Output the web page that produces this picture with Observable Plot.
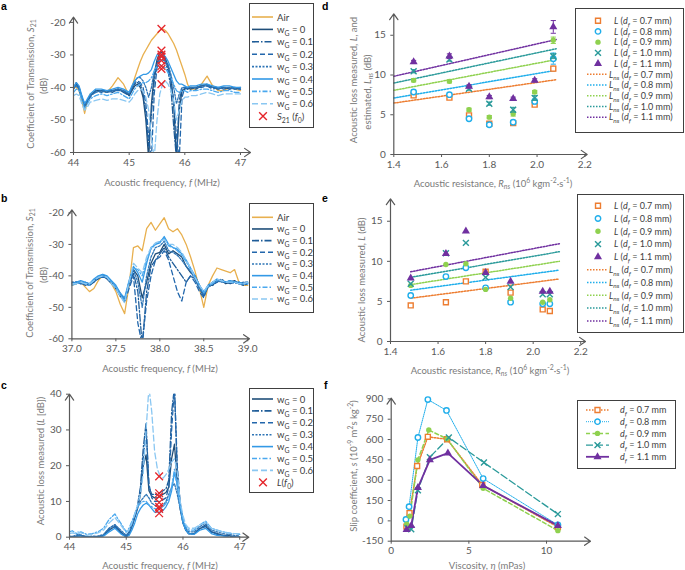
<!DOCTYPE html>
<html><head><meta charset="utf-8">
<script src="https://cdn.jsdelivr.net/npm/d3@7"></script>
<script src="https://cdn.jsdelivr.net/npm/@observablehq/plot@0.6"></script>
<style>
html,body{margin:0;padding:0;background:#fff;}
#root{position:relative;width:685px;height:570px;overflow:hidden;background:#fff;}
.panel{position:absolute;}
#ov{position:absolute;left:0;top:0;}
text{white-space:pre;}
</style></head>
<body><div id="root"></div>
<script>
// ================= DATA =================
// Panel a: S21 spectra around 45.6 MHz
const freqA = [44.0,44.05,44.1,44.15,44.2,44.25,44.3,44.4,44.5,44.6,44.7,44.8,44.9,45.0,45.05,45.1,45.15,45.2,45.25,45.3,45.35,45.4,45.45,45.5,45.55,45.6,45.65,45.7,45.75,45.8,45.85,45.9,45.95,46.0,46.05,46.1,46.2,46.3,46.4,46.5,46.6,46.7,46.8,46.9,47.0];
const airA = [-40,-40,-41,-44,-48,-44,-42, -41,-41,-41.5,-39.5,-37,-39,-42.5, -40,-37,-34.5,-32,-30,-28.5,-27,-25.5,-24.5,-23.5,-22.5,-22,-22.5,-23.5,-25,-26.5,-28.5,-31,-33.5,-36,-39,-40.5, -40.5,-39,-36.5,-39.5,-41,-41,-40,-40.5,-41];
const wg0A = [-40.5,-38.5,-40,-43,-45.5,-44,-42.5, -41,-41,-41.5,-41,-40.5,-41,-42.5, -41,-39.5,-39,-40,-43,-50,-62,-45,-36,-31.5,-29.5,-29,-31,-33.5,-37,-45,-62,-47,-41,-40.5,-40,-40.5, -40,-39.5,-39,-40,-40.5,-40,-40.5,-40,-40.5];
const wg1A = [-40,-39,-40.5,-43.5,-46,-44.5,-42.5, -41.5,-41,-41,-41.5,-40.5,-41.5,-42.5, -40.5,-39,-38.5,-39,-42,-48,-58,-48,-38,-32.5,-30.5,-30,-32,-35,-40,-52,-62,-44,-40.5,-40,-40.5,-40, -40.5,-39.5,-39.5,-40,-40,-40.5,-40,-40.5,-40];
const wg2A = [-40.5,-39,-40,-43,-45,-44,-43, -41,-41.5,-41,-41,-41,-41,-42, -40,-38.5,-38,-38.5,-40,-45,-55,-62,-42,-34,-31,-30.5,-31.5,-34,-38,-44,-55,-62,-43,-40,-40.5,-40, -40,-40,-39.5,-40.5,-40,-40,-40.5,-40,-40.5];
const wg3A = [-40,-39.5,-40.5,-43,-45.5,-44,-42.5, -41.5,-41,-41.5,-41,-40.5,-41,-42, -40,-38,-37,-37,-38,-40,-43,-40,-35,-33,-32,-31.5,-32,-33,-36,-40,-45,-42,-40,-40,-40,-40, -40,-39.5,-39.5,-40,-40.5,-40,-40,-40.5,-40.5];
const wg4A = [-40,-38.5,-39.5,-42.5,-45,-43.5,-42, -40.5,-40.5,-41,-40.5,-40,-40.5,-41.5, -39.5,-38,-37,-36.5,-36,-36,-35.5,-34.5,-32,-30,-29.5,-30,-30.5,-32,-34,-36,-38,-39,-39,-39.5,-40,-39.5, -39.5,-39,-39,-39.5,-40,-39.5,-39.5,-40,-40];
const wg5A = [-41.5,-40.5,-41,-44,-46.5,-45,-43.5, -42.5,-42,-42.5,-42,-41.5,-42.5,-43.5, -42,-40.5,-39.5,-39,-38.5,-38.5,-38,-37,-35,-33.5,-33,-33.5,-34,-35.5,-37,-39,-41,-41.5,-41,-41,-41.5,-41, -41,-40.5,-40.5,-41,-41.5,-41,-41,-41.5,-41.5];
const wg6A = [-42.5,-42,-42.5,-45,-47,-46,-44.5, -44,-43.5,-44,-43.5,-43.5,-44,-44.5, -43.5,-42,-41,-40.5,-41,-43,-47,-55,-62,-50,-42,-39,-38,-39,-41,-44,-50,-47,-44,-43,-43,-42.5, -42.5,-42,-41.5,-42,-42.5,-42,-42,-42,-42];
const f0A = 45.58;
const s21AtF0 = [-22,-28.7,-29.9,-30.5,-31.7,-33.4,-34.3,-39];

// Panel b: S21 spectra around 38 MHz
const freqB = [37.0,37.05,37.1,37.15,37.2,37.25,37.3,37.35,37.4,37.45,37.5,37.55,37.6,37.65,37.7,37.75,37.8,37.85,37.9,37.95,38.0,38.05,38.1,38.15,38.2,38.25,38.3,38.35,38.4,38.45,38.5,38.55,38.6,38.65,38.7,38.75,38.8,38.85,38.9,38.95,39.0];
const airB = [-43,-42.5,-42,-43.5,-45,-44,-41.5,-40,-40.5,-42.5,-45,-49,-52,-43,-31, -30.5,-32,-25,-23,-25.5,-23.5,-21.5,-25,-26,-25,-27,-30,-34,-38.5,-44,-50,-43,-40,-37.5,-38,-38.5,-39,-38,-42,-43,-43];
const wg0B = [-42.5,-42,-42,-42.5,-43,-42,-40.5,-40,-40.5,-42,-44,-46.5,-48,-42,-38, -40,-47,-42,-36,-33,-32.5,-30,-33,-32,-33,-34,-37,-39,-40,-43,-46,-43,-43,-41.5,-41.5,-42.5,-42,-41.5,-42.5,-42.5,-42];
const wg1B = [-42,-42.5,-42,-43,-42.5,-41.5,-41,-40,-41,-42.5,-44,-46,-47.5,-43,-39, -45,-62,-45,-37,-35,-33,-31,-34,-36,-38,-40,-42,-40,-41,-44,-46.5,-43.5,-43,-42,-41,-42,-42.5,-42,-42.5,-43,-42.5];
const wg2B = [-42.5,-42,-42.5,-42.5,-43,-42,-40.5,-40.5,-40.5,-42,-43.5,-46,-48.5,-44,-40, -55,-62,-48,-40,-35,-34,-32,-35,-40,-45,-48,-42,-40,-42,-45,-47,-43,-42.5,-42,-41.5,-42,-42,-42.5,-42,-42.5,-42.5];
const wg3B = [-42,-42,-42.5,-42,-42.5,-41.5,-40.5,-39.5,-40.5,-42,-43.5,-45.5,-47.5,-42.5,-38, -42,-50,-40,-34,-31,-30.5,-29,-32,-32.5,-33.5,-35,-37,-38.5,-41,-44,-46,-43,-42,-41.5,-42,-42,-41.5,-42,-42.5,-42,-42];
const wg4B = [-42.5,-42,-41.5,-42,-42.5,-41,-40,-39.5,-40,-41.5,-43,-45.5,-47,-41.5,-37, -39,-42,-36,-31,-30,-29.5,-27.5,-30,-31,-31.5,-33,-35,-37.5,-40,-43,-45,-43,-42,-41,-41.5,-42,-41.5,-42,-42,-42.5,-42];
const wg5B = [-43,-42.5,-42,-42.5,-43,-41.5,-40.5,-40,-40.5,-42,-43.5,-46,-48,-42,-37.5, -38,-40,-35,-31.5,-30,-29,-28,-30.5,-31,-32,-33.5,-35.5,-38,-40.5,-43,-45.5,-43.5,-42.5,-41.5,-41.5,-42,-42,-42,-42.5,-42.5,-42.5];
const wg6B = [-42.5,-42.5,-42,-42.5,-42.5,-41.5,-40.5,-40,-40.5,-42.5,-44,-46.5,-48.5,-42,-36, -37.5,-39,-34,-31,-29.5,-29,-28.5,-30,-30,-31,-32.5,-35,-37.5,-40.5,-43,-45,-43,-42,-41,-41.5,-42,-42,-42,-42.5,-42.5,-42];

// Panel c: acoustic loss spectra (same frequency grid as a)
const freqC = freqA;
const wg0C = [0,0,0,0.5,0.5,0.3,0.2, 0,0,0.5,2,3,1.5,0, 1,3,5.5,8,12,20,23,13,11.5,11,11,11.5,12,12.5,14,22,26,15,8,4,2,1, 1,2.5,3,1.5,1,0.5,0.5,0,0];
const wg1C = [0,0,0.2,0.5,0.3,0.2,0, 0,0.2,0.5,2.5,3.5,1.5,0.2, 1.5,3.5,6,9,14,25,32,14,12,12,12,12.5,13,13.5,16,35,42,18,9,4.5,2,1, 1,2.5,3.5,1.5,1,0.5,0.3,0,0];
const wg2C = [0,0.2,0,0.3,0.5,0.3,0, 0.2,0,0.5,2,3,1.2,0, 1,3,5.5,8.5,13,22,30,15,11,10,10,10,10.5,11,14,30,42,20,10,4.5,2,1, 0.8,2.5,3,1.5,0.8,0.5,0.3,0.2,0];
const wg3C = [0.3,0.2,0.5,0.8,0.6,0.4,0.2, 0.3,0.3,0.8,2.5,3.5,2,0.5, 1.5,3.5,6,8.5,10,11,12,11,9.5,9,8.5,8.5,9,10,12,14,15,12,8,4,2.5,1.5, 1.5,3,4,2,1.5,1,0.8,0.5,0.3];
const wg4C = [0,0,0,0.3,0.2,0,0, 0,0,0.3,1.5,2.5,1,0, 0.5,2,4,6.5,8,9,9.5,9,8,7,7,7,7.5,8.5,10,13,18,15,9,4,2,1, 0.8,2,2.5,1,0.5,0.3,0,0,0];
const wg5C = [1.5,1.8,1.2,1,1.5,1.2,0.8, 1,1.5,2.5,5,6.5,4,1.5, 2.5,4.5,6.5,8.5,9.5,10,10,9,8.5,8,8,8,8.5,9.5,11,14,19,14,9,5,3,2, 2,3.5,4.5,2.5,2,1.5,1.2,1,0.8];
const wg6C = [1,1.2,1,1.5,1.2,1,0.5, 0.8,1.2,2,4,5.5,3.5,1.2, 2,4,6.5,9,12,18,30,42,35,24,19,17,16.5,17.5,19,21,22,18,10,6,3.5,2.5, 2.5,3.5,4,2.5,2,1.5,1.2,1,1];
const lossAtF0 = [17,12.3,11.4,9.7,8.5,7.9,6.7];

// Panel d: measured L vs R_ns, plus estimated L_ns lines
const rnsD = [1.483,1.633,1.715,1.80,1.90,1.99,2.068];
const dL07 = [7.44,7.15,4.92,3.87,3.95,6.27,10.8];
const dL08 = [7.86,7.53,4.5,3.74,4.07,6.68,12.06];
const dL09 = [9.33,9.2,5.63,4.7,5.13,7.86,14.37];
const dL10 = [10.47,11.94,8.28,6.39,5.63,7.1,12.36];
const dL11 = [11.64,12.36,8.57,7.23,7.02,9.33,16.05];
const dErr07 = [0.2,0.2,0.2,0.2,0.2,0.2,0.3];
const dErr08 = [0.2,0.2,0.2,0.2,0.2,0.3,0.7];
const dErr09 = [0.2,0.2,0.2,0.2,0.3,0.2,0.4];
const dErr10 = [0.2,0.2,0.2,0.2,0.3,0.3,0.3];
const dErr11 = [0.2,0.3,0.2,0.2,0.2,0.2,0.8];
const lnsXD = [1.4,2.08];
const dLns07 = [6.47,9.41];
const dLns08 = [7.1,10.6];
const dLns09 = [8.07,11.94];
const dLns10 = [8.99,13.3];
const dLns11 = [9.84,14.46];

// Panel e
const rnsE = [1.485,1.633,1.717,1.80,1.905,2.04,2.07];
const eL07 = [4.5,4.9,7.5,8.7,6.1,4.0,3.8];
const eL08 = [5.75,8.1,9.2,6.7,4.9,4.7,4.7];
const eL09 = [7.0,9.6,9.7,6.5,5.4,4.9,5.2];
const eL10 = [7.2,11.0,12.3,8.0,6.8,5.9,5.9];
const eL11 = [7.9,10.96,13.75,8.6,7.5,6.25,6.25];
const lnsXE = [1.485,2.11];
const eLns07 = [5.4,7.8];
const eLns08 = [6.4,8.9];
const eLns09 = [7.1,10.0];
const eLns10 = [8.0,11.2];
const eLns11 = [8.7,12.2];

// Panel f: slip coefficient vs viscosity
const etaF07 = [0.98,1.18,1.67,2.36,3.6,5.86,10.73];
const sF07 = [-42,57,405,620,602,265,-45];
const etaF08 = [0.95,1.15,1.72,2.36,3.56,5.92,10.73];
const sF08 = [10,105,615,895,815,312,-30];
const etaF09 = [1.0,1.2,1.72,2.42,3.6,5.92,10.73];
const sF09 = [-25,35,450,670,605,240,-72];
const etaF10 = [1.05,1.29,1.72,2.49,3.71,5.97,10.73];
const sF10 = [-55,-62,225,470,615,430,50];
const etaF11 = [0.99,1.29,1.72,2.49,3.65,5.92,10.73];
const sF11 = [-65,-35,245,450,500,260,-35];

// Labels
const wgNames = ["0","0.1","0.2","0.3","0.4","0.5","0.6"];
const dfNames = ["0.7","0.8","0.9","1.0","1.1"];

// ================= STYLES =================
const FONT = "Lato, 'Open Sans', sans-serif";
const AX = "#595959";
const TITLE = "#7a7a7a";
const LEGTXT = "#404040";
const airColor = "#E8B04F";
const redX = "#E5262B";
const wgColors = ["#1F4E79","#1E5C98","#2267AC","#2E75B6","#3399E6","#4AA8EE","#8AC7F2"];
const wgDash = [undefined,"7,2,1.5,2","5,3","2,1.5",undefined,"5,2,1.5,2","6,3"];
const dfColors = ["#ED7D31","#1FAEEB","#8FD14F","#2A9A9A","#7030A0"];
const fDash = ["1.5,1.5","1,1","4,2.5","7,3",undefined];
const fWidth = [1.5,1,1.5,1.3,1.8];

// ================= HELPERS =================
const root = d3.select("#root");
const rows = (xs, ys) => xs.map((x, i) => ({x, y: ys[i]}));
const capSymbol = {draw(ctx, size) { const r = Math.sqrt(size / Math.PI); ctx.moveTo(-r, 0); ctx.lineTo(r, 0); }};

function axisArrows(xd, yd) {
  return [
    Plot.arrow([{x1: xd[0], y1: yd[0], x2: xd[1], y2: yd[0]}], {x1: "x1", y1: "y1", x2: "x2", y2: "y2", stroke: AX, strokeWidth: 1.2, headLength: 9, headAngle: 70}),
    Plot.arrow([{x1: xd[0], y1: yd[0], x2: xd[0], y2: yd[1]}], {x1: "x1", y1: "y1", x2: "x2", y2: "y2", stroke: AX, strokeWidth: 1.2, headLength: 9, headAngle: 70})
  ];
}

function panel(o) {
  const svg = Plot.plot({
    width: o.width, height: o.height,
    marginTop: o.mt, marginRight: o.mr, marginBottom: o.mb, marginLeft: o.ml,
    x: {domain: o.xd, ticks: o.xt, tickFormat: o.xf || (d => `${d}`), tickSize: 3, tickPadding: 3, label: null},
    y: {domain: o.yd, ticks: o.yt, tickFormat: o.yf || (d => `${d}`), tickSize: 3, tickPadding: 5, label: null},
    style: {fontFamily: FONT, fontSize: "10px", color: AX, background: "transparent", overflow: "visible"},
    marks: [...o.marks, axisArrows(o.xd, o.yd)]
  });
  root.append("div").attr("class", "panel").style("left", o.left + "px").style("top", o.top + "px").node().appendChild(svg);
}

// ================= PANEL a =================
const seriesA = [wg0A, wg1A, wg2A, wg3A, wg4A, wg5A, wg6A];
panel({
  left: 0, top: 0, width: 258, height: 190, mt: 16.7, mr: 8, mb: 38, ml: 73,
  xd: [44, 47.18], xt: [44, 45, 46, 47], yd: [-60, -18.4], yt: [-60, -50, -40, -30, -20],
  marks: [
    Plot.line(rows(freqA, airA), {x: "x", y: "y", stroke: airColor, strokeWidth: 1.3, clip: true}),
    ...seriesA.map((s, i) => Plot.line(rows(freqA, s), {x: "x", y: "y", stroke: wgColors[i], strokeWidth: 1.3, strokeDasharray: wgDash[i], clip: true})),
    Plot.dot(s21AtF0, {x: () => f0A, y: d => d, symbol: "times", stroke: redX, r: 3.6, strokeWidth: 1.3})
  ]
});

// ================= PANEL b =================
const seriesB = [wg0B, wg1B, wg2B, wg3B, wg4B, wg5B, wg6B];
panel({
  left: 0, top: 190, width: 258, height: 190, mt: 19.3, mr: 9, mb: 41.7, ml: 71.4,
  xd: [37, 39.02], xt: [37, 37.5, 38, 38.5, 39], xf: d3.format(".1f"), yd: [-60, -19], yt: [-60, -50, -40, -30, -20],
  marks: [
    Plot.line(rows(freqB, airB), {x: "x", y: "y", stroke: airColor, strokeWidth: 1.3, clip: true}),
    ...seriesB.map((s, i) => Plot.line(rows(freqB, s), {x: "x", y: "y", stroke: wgColors[i], strokeWidth: 1.3, strokeDasharray: wgDash[i], clip: true}))
  ]
});

// ================= PANEL c =================
const seriesC = [wg0C, wg1C, wg2C, wg3C, wg4C, wg5C, wg6C];
panel({
  left: 0, top: 380, width: 258, height: 190, mt: 13.7, mr: 9.7, mb: 33.3, ml: 69,
  xd: [44, 47.16], xt: [44, 45, 46, 47], yd: [0, 40], yt: [0, 10, 20, 30, 40],
  marks: [
    ...seriesC.map((s, i) => Plot.line(rows(freqC, s), {x: "x", y: "y", stroke: wgColors[i], strokeWidth: 1.3, strokeDasharray: wgDash[i], clip: true})),
    Plot.dot(lossAtF0, {x: () => f0A, y: d => d, symbol: "times", stroke: redX, r: 3.6, strokeWidth: 1.3})
  ]
});

// ================= PANEL d / e helpers =================
const symDefs = [
  {symbol: "square", fill: "white", stroke: true, r: 2.8},
  {symbol: "circle", fill: "white", stroke: true, r: 2.7},
  {symbol: "circle", fill: true, stroke: false, r: 2.7},
  {symbol: "times", fill: false, stroke: true, r: 2.8},
  {symbol: "triangle", fill: true, stroke: false, r: 3}
];
function pointMarks(xs, series, errs) {
  const out = [];
  series.forEach((s, i) => {
    const c = dfColors[i], sd = symDefs[i];
    if (errs) {
      const er = xs.map((x, k) => ({x, lo: s[k] - errs[i][k], hi: s[k] + errs[i][k]}));
      out.push(Plot.ruleX(er, {x: "x", y1: "lo", y2: "hi", stroke: c, strokeWidth: 1}));
      out.push(Plot.dot(er, {x: "x", y: "lo", symbol: capSymbol, r: 2.6, stroke: c, strokeWidth: 1}));
      out.push(Plot.dot(er, {x: "x", y: "hi", symbol: capSymbol, r: 2.6, stroke: c, strokeWidth: 1}));
    }
    out.push(Plot.dot(rows(xs, s), {x: "x", y: "y", symbol: sd.symbol, r: sd.r,
      fill: sd.fill === true ? c : (sd.fill || "none"), stroke: sd.stroke ? c : "none", strokeWidth: 1.4}));
  });
  return out;
}
function lnsMarks(xs, series) {
  return series.map((s, i) => Plot.line(rows(xs, s), {x: "x", y: "y", stroke: dfColors[i], strokeWidth: 1.5, strokeDasharray: "1.5,1.5"}));
}

// ================= PANEL d =================
panel({
  left: 330, top: 0, width: 260, height: 190, mt: 13.3, mr: 3.3, mb: 36, ml: 63.3,
  xd: [1.4, 2.21], xt: [1.4, 1.6, 1.8, 2.0, 2.2], xf: d3.format(".1f"), yd: [0, 17.7], yt: [0, 5, 10, 15],
  marks: [
    ...lnsMarks(lnsXD, [dLns07, dLns08, dLns09, dLns10, dLns11]),
    ...pointMarks(rnsD, [dL07, dL08, dL09, dL10, dL11], [dErr07, dErr08, dErr09, dErr10, dErr11])
  ]
});

// ================= PANEL e =================
panel({
  left: 330, top: 185, width: 260, height: 190, mt: 13.3, mr: 5, mb: 34, ml: 60,
  xd: [1.4, 2.22], xt: [1.4, 1.6, 1.8, 2.0, 2.2], xf: d3.format(".1f"), yd: [0, 17.8], yt: [0, 5, 10, 15],
  marks: [
    ...lnsMarks(lnsXE, [eLns07, eLns08, eLns09, eLns10, eLns11]),
    ...pointMarks(rnsE, [eL07, eL08, eL09, eL10, eL11], null)
  ]
});

// ================= PANEL f =================
const etaF = [etaF07, etaF08, etaF09, etaF10, etaF11];
const sF = [sF07, sF08, sF09, sF10, sF11];
panel({
  left: 330, top: 375, width: 265, height: 195, mt: 22.7, mr: 5, mb: 29.3, ml: 60.7,
  xd: [0, 12.83], xt: [0, 5, 10], yd: [-150, 905], yt: [-150, 0, 150, 300, 450, 600, 750, 900],
  marks: [
    ...sF.map((s, i) => Plot.line(rows(etaF[i], s), {x: "x", y: "y", stroke: dfColors[i], strokeWidth: fWidth[i], strokeDasharray: fDash[i]})),
    ...sF.map((s, i) => { const sd = symDefs[i]; const c = dfColors[i];
      return Plot.dot(rows(etaF[i], s), {x: "x", y: "y", symbol: sd.symbol, r: sd.r,
        fill: sd.fill === true ? c : (sd.fill || "none"), stroke: sd.stroke ? c : "none", strokeWidth: 1.4}); })
  ]
});

// ================= OVERLAY: titles, legends, letters =================
const ov = root.append("svg").attr("id", "ov").attr("width", 685).attr("height", 570);

function rich(x, y, segs, o = {}) {
  const size = o.size || 9.5;
  const t = ov.append("text").attr("x", x).attr("y", y).attr("font-size", size)
    .attr("fill", o.fill || LEGTXT).attr("text-anchor", o.anchor || "start").attr("font-family", o.font || FONT);
  if (o.bold) t.attr("font-weight", "bold");
  if (o.rotate) t.attr("transform", `rotate(-90 ${x} ${y})`);
  let prev = 0;
  for (const s of segs) {
    const seg = typeof s === "string" ? {t: s} : s;
    const off = seg.sub ? size * 0.3 : seg.sup ? -size * 0.4 : 0;
    const ts = t.append("tspan").text(seg.t);
    if (off !== prev) ts.attr("dy", off - prev);
    if (seg.i) ts.attr("font-style", "italic");
    if (seg.sub || seg.sup) ts.attr("font-size", size * 0.72);
    prev = off;
  }
  return t;
}
function box(x, y, w, h) {
  ov.append("rect").attr("x", x + 0.5).attr("y", y + 0.5).attr("width", w).attr("height", h)
    .attr("fill", "white").attr("stroke", "#404040").attr("stroke-width", 1);
}
function legLine(x1, x2, y, color, dash, w = 1.6) {
  const l = ov.append("line").attr("x1", x1).attr("x2", x2).attr("y1", y).attr("y2", y)
    .attr("stroke", color).attr("stroke-width", w);
  if (dash) l.attr("stroke-dasharray", dash);
}
const d3sym = {square: d3.symbolSquare, circle: d3.symbolCircle, times: d3.symbolTimes, triangle: d3.symbolTriangle};
function legSym(x, y, sd, c) {
  ov.append("path").attr("transform", `translate(${x},${y})`)
    .attr("d", d3.symbol(d3sym[sd.symbol], sd.r * sd.r * Math.PI)())
    .attr("fill", sd.fill === true ? c : (sd.fill || "none"))
    .attr("stroke", sd.stroke ? c : "none").attr("stroke-width", 1.4);
}
const wgText = n => ["w", {t: "G", sub: true}, ` = ${n}`];

// ---- legend a ----
box(249, 3, 64, 124);
{
  const y0 = 17, dy = 12.4;
  legLine(252, 273, y0, airColor, undefined);
  rich(277, y0 + 3.5, ["Air"]);
  wgNames.forEach((n, i) => { const y = y0 + (i + 1) * dy; legLine(252, 273, y, wgColors[i], wgDash[i]); rich(277, y + 3.5, wgText(n)); });
  const y = y0 + 8 * dy;
  legSym(263, y, {symbol: "times", stroke: true, r: 3.6}, redX);
  rich(277, y + 3.5, [{t: "S", i: true}, {t: "21", sub: true}, " (", {t: "f", i: true}, {t: "0", sub: true}, ")"]);
}
// ---- legend b ----
box(249, 203, 64, 109);
{
  const y0 = 217.3, dy = 11.67;
  legLine(252, 273, y0, airColor, undefined);
  rich(277, y0 + 3.5, ["Air"]);
  wgNames.forEach((n, i) => { const y = y0 + (i + 1) * dy; legLine(252, 273, y, wgColors[i], wgDash[i]); rich(277, y + 3.5, wgText(n)); });
}
// ---- legend c ----
box(249, 388, 64, 104);
{
  const y0 = 399, dy = 11.9;
  wgNames.forEach((n, i) => { const y = y0 + i * dy; legLine(252, 273, y, wgColors[i], wgDash[i]); rich(277, y + 3.5, wgText(n)); });
  const y = y0 + 7 * dy;
  legSym(263, y, {symbol: "times", stroke: true, r: 3.6}, redX);
  rich(277, y + 3.5, [{t: "L", i: true}, "(", {t: "f", i: true}, {t: "0", sub: true}, ")"]);
}
// ---- legends d, e ----
function legendDE(bx, by, bw, bh, y0, dy) {
  box(bx, by, bw, bh);
  dfNames.forEach((n, i) => {
    const y = y0 + i * dy;
    legSym(598, y, symDefs[i], dfColors[i]);
    rich(614, y + 3.2, [{t: "L", i: true}, " (", {t: "d", i: true}, {t: "f", i: true, sub: true}, ` = ${n} mm)`], {size: 9});
  });
  dfNames.forEach((n, i) => {
    const y = y0 + (i + 5) * dy;
    legLine(587, 607, y, dfColors[i], "1.5,1.5", 1.5);
    rich(609, y + 3.2, [{t: "L", i: true}, {t: "ns", i: true, sub: true}, " (", {t: "d", i: true}, {t: "f", i: true, sub: true}, ` = ${n} mm)`], {size: 9});
  });
}
legendDE(575, 8, 108, 124, 20.7, 10.73);
legendDE(577, 194, 106, 138, 205.7, 12.8);
// ---- legend f ----
box(577, 400, 98, 68);
dfNames.forEach((n, i) => {
  const y = 410 + i * 11.7;
  legLine(586, 609, y, dfColors[i], fDash[i], fWidth[i]);
  legSym(597.5, y, symDefs[i], dfColors[i]);
  rich(620, y + 3.2, [{t: "d", i: true}, {t: "f", i: true, sub: true}, ` = ${n} mm`], {size: 9});
});

// ---- axis titles ----
const T = {size: 9.5, fill: TITLE, anchor: "middle"};
rich(162, 186, ["Acoustic frequency, ", {t: "f", i: true}, " (MHz)"], T);
rich(33.5, 84, ["Coefficient of Transmission, ", {t: "S", i: true}, {t: "21", sub: true}], {...T, rotate: true});
rich(46.5, 86, ["(dB)"], {...T, rotate: true});

rich(160, 371.5, ["Acoustic frequency, ", {t: "f", i: true}, " (MHz)"], T);
rich(32.5, 273, ["Coefficient of Transmission, ", {t: "S", i: true}, {t: "21", sub: true}], {...T, rotate: true});
rich(46.5, 275, ["(dB)"], {...T, rotate: true});

rich(160, 568.5, ["Acoustic frequency, ", {t: "f", i: true}, " (MHz)"], T);
rich(43.5, 461, ["Acoustic loss measured (", {t: "L", i: true}, " [dB])"], {...T, rotate: true});

const rnsTitle = ["Acoustic resistance, ", {t: "R", i: true}, {t: "ns", i: true, sub: true}, " (10", {t: "6", sup: true}, " kgm", {t: "-2", sup: true}, "·s", {t: "-1", sup: true}, ")"];
rich(493, 186.5, rnsTitle, T);
rich(357, 80, ["Acoustic loss measured, ", {t: "L", i: true}, ", and"], {...T, rotate: true});
rich(370.5, 92, ["estimated, ", {t: "L", i: true}, {t: "ns", i: true, sub: true}, " (dB)"], {...T, rotate: true});

rich(490, 373.5, rnsTitle, T);
rich(365, 280, ["Acoustic loss measured, ", {t: "L", i: true}, " (dB)"], {...T, rotate: true});

rich(487, 568.5, ["Viscosity, ", {t: "η", i: true}, " (mPas)"], T);
rich(357, 466, ["Slip coefficient, ", {t: "s", i: true}, " (10", {t: "-9", sup: true}, " m", {t: "2", sup: true}, "s kg", {t: "-2", sup: true}, ")"], {...T, rotate: true});

// ---- panel letters ----
const L = {size: 10.5, fill: "#000", bold: true, font: "'Liberation Sans', Arial, sans-serif"};
rich(1, 10, ["a"], L);
rich(1, 202, ["b"], L);
rich(1, 389, ["c"], L);
rich(322, 10, ["d"], L);
rich(322, 202, ["e"], L);
rich(324, 389, ["f"], L);
</script>
</body></html>
